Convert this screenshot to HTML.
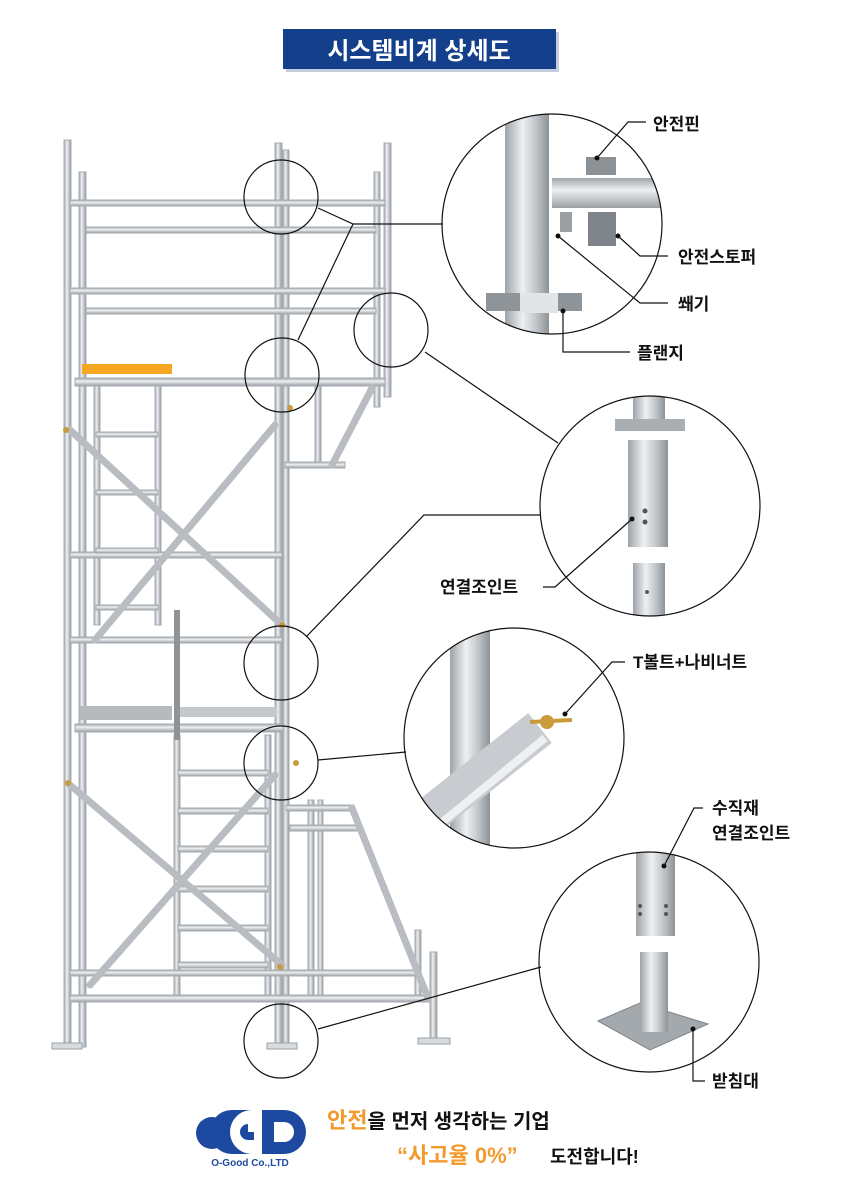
<!DOCTYPE html>
<html><head><meta charset="utf-8"><style>
body{margin:0;background:#fff;}
svg{display:block;}
text{font-family:"Liberation Sans","Noto Sans CJK KR",sans-serif;font-weight:bold;}
</style></head><body>
<svg width="842" height="1191" viewBox="0 0 842 1191" xmlns="http://www.w3.org/2000/svg">
<defs>
<linearGradient id="pv" x1="0" x2="1" y1="0" y2="0"><stop offset="0" stop-color="#9ea3a8"/><stop offset=".4" stop-color="#eef0f2"/><stop offset=".7" stop-color="#c2c6ca"/><stop offset="1" stop-color="#8d9297"/></linearGradient>
<linearGradient id="ph" x1="0" x2="0" y1="0" y2="1"><stop offset="0" stop-color="#a0a5aa"/><stop offset=".4" stop-color="#eef0f2"/><stop offset="1" stop-color="#9a9fa4"/></linearGradient>
<clipPath id="c1"><circle cx="552" cy="224" r="110"/></clipPath>
<clipPath id="c2"><circle cx="650" cy="506" r="110"/></clipPath>
<clipPath id="c3"><circle cx="514" cy="738" r="110"/></clipPath>
<clipPath id="c4"><circle cx="649" cy="962" r="110"/></clipPath>
</defs>
<!-- title -->
<rect x="286" y="32" width="273" height="40" fill="#c5cde0"/>
<rect x="283" y="29" width="273" height="40" fill="#133f8b"/>
<text x="419" y="59" font-size="24" fill="#fff" text-anchor="middle">시스템비계 상세도</text>

<!-- scaffold -->
<g stroke="#a6abb0" stroke-width="1" fill="url(#pv)">
<rect x="64" y="140" width="7" height="905"/>
<rect x="79" y="172" width="7" height="875"/>
<rect x="275" y="143" width="7" height="905"/>
<rect x="283" y="150" width="6" height="898"/>
<rect x="384" y="143" width="7" height="254"/>
<rect x="374" y="172" width="6" height="235"/>
<rect x="315" y="385" width="6" height="80"/>
<rect x="94" y="385" width="6" height="240"/>
<rect x="155" y="385" width="6" height="240"/>
<rect x="174" y="735" width="6" height="260"/>
<rect x="265" y="735" width="6" height="260"/>
<rect x="308" y="800" width="6" height="200"/>
<rect x="318" y="800" width="5" height="200"/>
<rect x="430" y="952" width="7" height="90"/>
<rect x="415" y="930" width="6" height="70"/>
</g>
<g stroke="#a6abb0" stroke-width="1" fill="url(#ph)">
<rect x="70" y="200" width="315" height="6"/>
<rect x="86" y="227" width="290" height="6"/>
<rect x="70" y="288" width="315" height="6"/>
<rect x="86" y="308" width="290" height="6"/>
<rect x="75" y="378" width="310" height="8"/>
<rect x="285" y="462" width="60" height="6"/>
<rect x="70" y="552" width="212" height="6"/>
<rect x="70" y="637" width="212" height="6"/>
<rect x="75" y="724" width="208" height="8"/>
<rect x="286" y="805" width="68" height="6"/>
<rect x="290" y="825" width="70" height="6"/>
<rect x="70" y="970" width="350" height="6"/>
<rect x="70" y="995" width="360" height="7"/>
<rect x="96" y="432" width="62" height="5"/>
<rect x="96" y="490" width="62" height="5"/>
<rect x="96" y="548" width="62" height="5"/>
<rect x="96" y="605" width="62" height="5"/>
<rect x="178" y="770" width="90" height="6"/>
<rect x="178" y="808" width="90" height="6"/>
<rect x="178" y="846" width="90" height="6"/>
<rect x="178" y="886" width="90" height="6"/>
<rect x="178" y="925" width="90" height="6"/>
<rect x="178" y="962" width="90" height="6"/>
</g>
<rect x="82" y="364" width="90" height="10" fill="#f5a623"/>
<rect x="80" y="706" width="92" height="14" fill="#b7babd"/>
<rect x="176" y="707" width="100" height="10" fill="#c6c9cc"/>
<rect x="174" y="610" width="6" height="130" fill="#8e9398"/>
<g stroke="#b9bdc1" stroke-width="7" stroke-linecap="round">
<line x1="70" y1="430" x2="282" y2="625"/>
<line x1="275" y1="425" x2="95" y2="640"/>
<line x1="70" y1="785" x2="282" y2="965"/>
<line x1="275" y1="775" x2="90" y2="985"/>
<line x1="372" y1="388" x2="332" y2="465"/>
<line x1="352" y1="808" x2="428" y2="998"/>
</g>
<g fill="#d8dbde" stroke="#9aa0a5" stroke-width="1">
<rect x="52" y="1043" width="30" height="6"/><rect x="267" y="1043" width="30" height="6"/>
<rect x="418" y="1038" width="32" height="6"/>
</g>
<g fill="#c89b3c"><circle cx="66" cy="430" r="3"/><circle cx="290" cy="408" r="3"/><circle cx="282" cy="625" r="3"/><circle cx="68" cy="783" r="3"/><circle cx="280" cy="967" r="3"/><circle cx="296" cy="763" r="3"/></g>

<!-- small circles and leaders -->
<g fill="none" stroke="#111" stroke-width="1.2">
<circle cx="281" cy="197" r="37"/>
<circle cx="391" cy="330" r="37"/>
<circle cx="282" cy="375" r="37"/>
<circle cx="281" cy="663" r="37"/>
<circle cx="281" cy="763" r="37"/>
<circle cx="281" cy="1041" r="37"/>
<polyline points="318,208 353,224 443,224"/>
<line x1="353" y1="224" x2="298" y2="340"/>
<line x1="425" y1="352" x2="558" y2="443"/>
<polyline points="306,637 424,515 541,515"/>
<line x1="318" y1="760" x2="406" y2="752"/>
<line x1="318" y1="1029" x2="541" y2="967"/>
</g>

<!-- detail circle 1 -->
<g clip-path="url(#c1)">
<rect x="505" y="110" width="44" height="230" fill="url(#pv)"/>
<rect x="486" y="293" width="96" height="18" fill="#8f9499"/>
<rect x="520" y="293" width="38" height="20" fill="#e2e4e6"/>
<rect x="552" y="178" width="115" height="30" fill="url(#ph)"/>
<rect x="586" y="157" width="30" height="18" fill="#8c9196"/>
<rect x="588" y="212" width="28" height="34" fill="#7f848a"/>
<rect x="560" y="212" width="12" height="20" fill="#9a9fa4"/>
</g>
<circle cx="552" cy="224" r="110" fill="none" stroke="#111" stroke-width="1.2"/>
<g fill="none" stroke="#111" stroke-width="1.2">
<polyline points="597,158 628,122 646,122"/>
<polyline points="618,236 640,256 668,256"/>
<polyline points="558,236 640,303 668,303"/>
<polyline points="563,311 563,352 630,352"/>
</g>
<g fill="#111"><circle cx="597" cy="158" r="2.5"/><circle cx="618" cy="236" r="2.5"/><circle cx="558" cy="236" r="2.5"/><circle cx="563" cy="311" r="2.5"/></g>
<g font-size="17" fill="#111">
<text x="653" y="130">안전핀</text>
<text x="678" y="263">안전스토퍼</text>
<text x="678" y="310">쐐기</text>
<text x="637" y="359">플랜지</text>
</g>

<!-- detail circle 2 -->
<g clip-path="url(#c2)">
<rect x="633" y="390" width="32" height="32" fill="url(#pv)"/>
<rect x="615" y="419" width="70" height="12" fill="#a9aeb3"/>
<rect x="628" y="440" width="40" height="107" fill="url(#pv)"/>
<rect x="633" y="563" width="32" height="60" fill="url(#pv)"/>
</g>
<g fill="#555"><circle cx="645" cy="511" r="2.5"/><circle cx="645" cy="522" r="2.5"/><circle cx="647" cy="592" r="2"/></g>
<circle cx="650" cy="506" r="110" fill="none" stroke="#111" stroke-width="1.2"/>
<polyline points="632,519 555,587 543,587" fill="none" stroke="#111" stroke-width="1.2"/>
<circle cx="632" cy="519" r="2.5" fill="#111"/>
<text x="440" y="593" font-size="17" fill="#111">연결조인트</text>

<!-- detail circle 3 -->
<g clip-path="url(#c3)">
<rect x="450" y="620" width="40" height="240" fill="url(#pv)"/>
<line x1="380" y1="855" x2="540" y2="728" stroke="#c8ccd0" stroke-width="38"/>
<line x1="390" y1="865" x2="545" y2="738" stroke="#eef0f2" stroke-width="8"/>
</g>
<circle cx="547" cy="722" r="7" fill="#c99b3a"/>
<line x1="530" y1="722" x2="572" y2="720" stroke="#c99b3a" stroke-width="4"/>
<circle cx="514" cy="738" r="110" fill="none" stroke="#111" stroke-width="1.2"/>
<polyline points="565,714 612,662 625,662" fill="none" stroke="#111" stroke-width="1.2"/>
<circle cx="565" cy="714" r="2.5" fill="#111"/>
<text x="633" y="668" font-size="17" fill="#111">T볼트+나비너트</text>

<!-- detail circle 4 -->
<g clip-path="url(#c4)">
<rect x="636" y="845" width="39" height="91" fill="url(#pv)"/>
</g>
<g fill="#555"><circle cx="640" cy="906" r="2"/><circle cx="640" cy="914" r="2"/><circle cx="666" cy="906" r="2"/><circle cx="666" cy="914" r="2"/></g>
<polygon points="598,1021 640,1003 708,1024 650,1050" fill="#a4a9ae" stroke="#7e8388"/>
<rect x="640" y="952" width="28" height="80" fill="url(#pv)"/>
<circle cx="649" cy="962" r="110" fill="none" stroke="#111" stroke-width="1.2"/>
<polyline points="664,866 694,808 703,808" fill="none" stroke="#111" stroke-width="1.2"/>
<polyline points="693,1029 693,1081 705,1081" fill="none" stroke="#111" stroke-width="1.2"/>
<circle cx="664" cy="866" r="2.5" fill="#111"/><circle cx="693" cy="1029" r="2.5" fill="#111"/>
<g font-size="17" fill="#111">
<text x="712" y="814">수직재</text>
<text x="712" y="839">연결조인트</text>
<text x="712" y="1087">받침대</text>
</g>

<!-- footer logo -->
<g fill="#1d4aa0">
<circle cx="212" cy="1133" r="16"/>
<path d="M232 1110 h20 a22 22 0 0 0 0 44 h-20 a22 22 0 0 1 0 -44z M248 1124 a8 8 0 0 0 0 16 h6 v-8 h-6" fill-rule="evenodd"/>
<path d="M262 1110 h22 a22 22 0 0 1 0 44 h-22 z M274 1122 v20 h10 a10 10 0 0 0 0 -20z" fill-rule="evenodd"/>
</g>
<text x="250" y="1166" font-size="10" fill="#1d4aa0" text-anchor="middle">O-Good Co.,LTD</text>
<text x="327" y="1128" font-size="20" fill="#111"><tspan fill="#f39a2c" font-size="22">안전</tspan>을 먼저 생각하는 기업</text>
<text x="397" y="1163" font-size="22" fill="#f39a2c">“사고율 0%”</text>
<text x="550" y="1163" font-size="18" fill="#111">도전합니다!</text>
</svg>
</body></html>
